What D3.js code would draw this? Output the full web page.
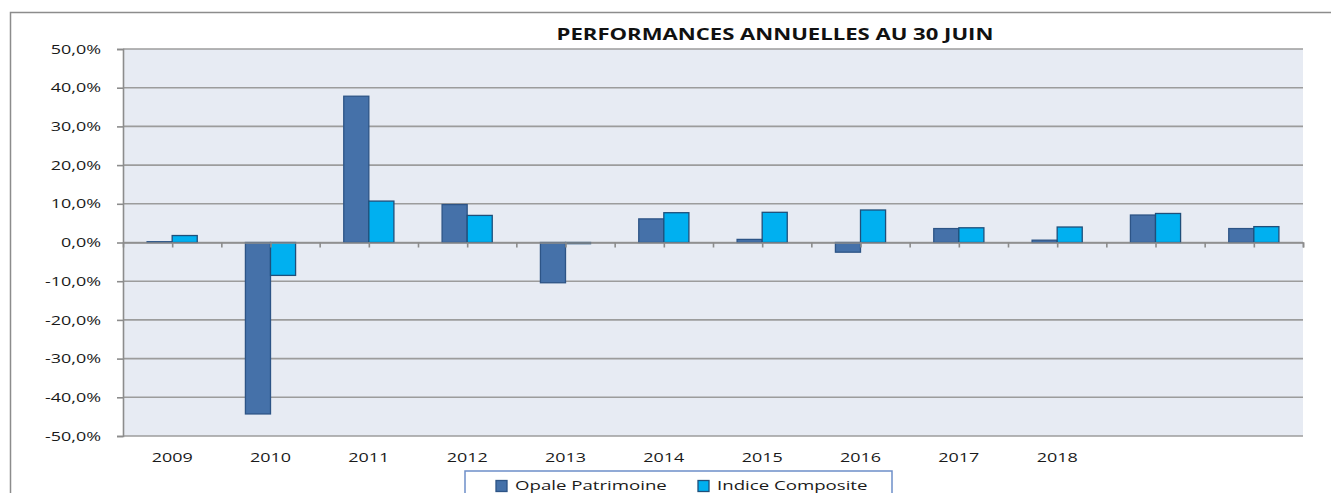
<!DOCTYPE html>
<html>
<head>
<meta charset="utf-8">
<script src="https://cdn.jsdelivr.net/npm/d3@7"></script>
<style>
  body { margin: 0; background: #fff; }
  text { font-family: "Open Sans", "Noto Sans", sans-serif; fill: #1a1a1a; }
</style>
</head>
<body>
<div class="chart"></div>
<script>
// donnees
var titre = "PERFORMANCES ANNUELLES AU 30 JUIN";
var annees = ["2009", "2010", "2011", "2012", "2013", "2014", "2015", "2016", "2017", "2018", "", ""];
var opale = [0.2, -44.3, 37.8, 9.8, -10.4, 6.1, 0.8, -2.5, 3.6, 0.6, 7.1, 3.6];
var indice = [1.8, -8.5, 10.7, 7.0, -0.3, 7.7, 7.8, 8.4, 3.8, 4.0, 7.5, 4.1];
var series = ["Opale Patrimoine", "Indice Composite"];
var yTicks = [-50, -40, -30, -20, -10, 0, 10, 20, 30, 40, 50];

var W = 1331, H = 493;
var margin = {top: 49, right: 28, bottom: 57, left: 123},
    width = W - margin.left - margin.right,
    height = H - margin.top - margin.bottom;

var couleurs = {fill: ["#4571a9", "#00b0f0"], stroke: ["#2d5486", "#1f4f7a"]};
var etire = 1.38; // le texte de l'image est etire horizontalement

var svg = d3.select(".chart").append("svg")
    .attr("width", W)
    .attr("height", H);

// cadre exterieur
svg.append("rect")
    .attr("x", 10.5).attr("y", 12.5)
    .attr("width", W).attr("height", H)
    .style("fill", "none").style("stroke", "#8c8c8c").style("stroke-width", 1.5);

var canvas = svg.append("g")
    .attr("transform", "translate(" + margin.left + "," + margin.top + ")");

var xScale = d3.scaleBand()
    .domain(d3.range(annees.length))
    .range([0, width]);

var xHalf = d3.scaleLinear()
    .domain([0, annees.length])
    .range([0, width]);

var yScale = d3.scaleLinear()
    .domain([-50, 50])
    .range([height, 0]);

var fmt = function (d) { return d3.format(".1f")(d).replace(".", ",").replace("−", "-") + "%"; };

// fond
canvas.append("rect")
    .attr("width", width).attr("height", height)
    .style("fill", "#e7ebf3");

// grille
canvas.append("g").selectAll("line")
    .data(yTicks)
    .enter().append("line")
    .attr("x1", 0).attr("x2", width)
    .attr("y1", function (d) { return yScale(d); })
    .attr("y2", function (d) { return yScale(d); })
    .style("stroke", "#9c9c9c").style("stroke-width", 1.6);

// axe Y
var yAxis = d3.axisLeft(yScale).tickValues(yTicks).tickSize(6).tickPadding(16).tickFormat(fmt);
var gy = canvas.append("g").attr("class", "y axis").call(yAxis);
gy.selectAll("path, line").style("stroke", "#8c8c8c").style("stroke-width", 1.6);
gy.selectAll("text").style("font-size", "13px").style("fill", "#1a1a1a");

// barres
var bw = xScale.bandwidth() * 0.255;
[opale, indice].forEach(function (vals, s) {
    canvas.append("g").selectAll("rect")
        .data(vals)
        .enter().append("rect")
        .attr("x", function (d, i) { return xScale(i) + xScale.bandwidth() / 2 - bw + s * bw; })
        .attr("y", function (d) { return yScale(Math.max(0, d)); })
        .attr("width", bw)
        .attr("height", function (d) { return Math.abs(yScale(d) - yScale(0)); })
        .style("fill", couleurs.fill[s])
        .style("stroke", couleurs.stroke[s])
        .style("stroke-width", 1.3);
});

// axe horizontal au zero, graduations toutes les demi-categories
var xAxis0 = d3.axisBottom(xHalf)
    .tickValues(d3.range(0.5, annees.length + 0.01, 0.5))
    .tickSize(5).tickFormat("");
var gx0 = canvas.append("g").attr("transform", "translate(0," + yScale(0) + ")").call(xAxis0);
gx0.selectAll("path, line").style("stroke", "#8c8c8c").style("stroke-width", 1.6);

// libelles des annees
var xAxis = d3.axisBottom(xScale).tickSize(0).tickPadding(17)
    .tickFormat(function (i) { return annees[i]; });
var gx = canvas.append("g").attr("transform", "translate(0," + height + ")").call(xAxis);
gx.select(".domain").remove();
gx.selectAll("text").style("font-size", "13px").style("fill", "#1a1a1a");

// titre
svg.append("text")
    .attr("x", 775).attr("y", 40)
    .attr("text-anchor", "middle")
    .style("font-size", "16px")
    .style("font-weight", "bold")
    .style("fill", "#111")
    .text(titre);

// legende
var leg = svg.append("g").attr("transform", "translate(465,471)");
leg.append("rect")
    .attr("width", 427).attr("height", 40)
    .style("fill", "#fff").style("stroke", "#6d8fc9").style("stroke-width", 1.5);
var legX = [31, 233];
series.forEach(function (nom, s) {
    leg.append("rect")
        .attr("x", legX[s]).attr("y", 9.5)
        .attr("width", 11).attr("height", 11)
        .style("fill", couleurs.fill[s])
        .style("stroke", couleurs.stroke[s]).style("stroke-width", 1.3);
    leg.append("text")
        .attr("x", legX[s] + 19).attr("y", 19)
        .style("font-size", "13.5px")
        .text(nom);
});

// etirement horizontal des textes
svg.selectAll("text").each(function () {
    var l = this.getComputedTextLength();
    if (l > 0) d3.select(this).attr("textLength", l * etire).attr("lengthAdjust", "spacingAndGlyphs");
});
</script>
</body>
</html>
